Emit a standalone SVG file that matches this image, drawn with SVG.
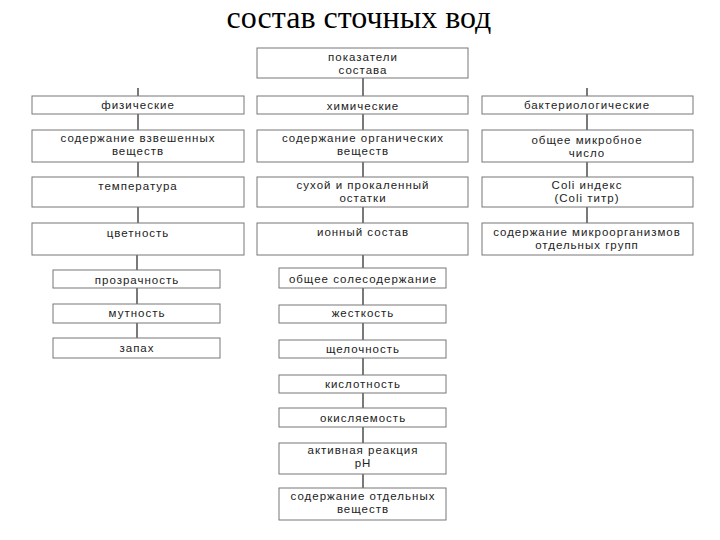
<svg xmlns="http://www.w3.org/2000/svg" width="720" height="540" viewBox="0 0 720 540">
<style>
.bx{fill:#fff;stroke:#777;stroke-width:1}
.t{font-family:"Liberation Sans",Arial,sans-serif;font-size:11.5px;letter-spacing:1px;fill:#222;text-anchor:middle}
.ttl{font-family:"Liberation Serif","Times New Roman",serif;font-size:32px;fill:#000;text-anchor:middle}
.c{stroke:#333;stroke-width:1.3;fill:none}
</style>
<rect width="720" height="540" fill="#fff"/>
<text class="ttl" x="359" y="28">состав сточных вод</text>
<g id="connectors">
<path class="c" d="M363 78V96M363 114V130M363 162V177M363 207V223M363 255V268M363 288V305M363 323V340M363 358V375M363 393V408M363 427V443M363 474V488"/>
<path class="c" d="M138 88V96M138 114V130M138 162V177M138 207V223M137 255V270M137 288V304M137 323V338"/>
<path class="c" d="M587 88V96M587 114V130M587 162V177M587 207V223"/>
</g>
<g id="n-top"><rect class="bx" x="257" y="48" width="211" height="30"/><text class="t" x="363" y="61">показатели</text><text class="t" x="363" y="74">состава</text></g>
<g id="n-phys"><rect class="bx" x="32" y="96" width="212" height="18"/><text class="t" x="138" y="109">физические</text></g>
<g id="n-susp"><rect class="bx" x="32" y="130" width="212" height="32"/><text class="t" x="138" y="142">содержание взвешенных</text><text class="t" x="138" y="155">веществ</text></g>
<g id="n-temp"><rect class="bx" x="32" y="177" width="212" height="30"/><text class="t" x="138" y="190">температура</text></g>
<g id="n-color"><rect class="bx" x="32" y="223" width="212" height="32"/><text class="t" x="138" y="237">цветность</text></g>
<g id="n-transp"><rect class="bx" x="53" y="270" width="167" height="18"/><text class="t" x="137" y="284">прозрачность</text></g>
<g id="n-turb"><rect class="bx" x="53" y="304" width="167" height="19"/><text class="t" x="137" y="317">мутность</text></g>
<g id="n-smell"><rect class="bx" x="53" y="338" width="167" height="20"/><text class="t" x="137" y="352">запах</text></g>
<g id="n-chem"><rect class="bx" x="257" y="96" width="211" height="18"/><text class="t" x="363" y="110">химические</text></g>
<g id="n-org"><rect class="bx" x="257" y="130" width="211" height="32"/><text class="t" x="363" y="142">содержание органических</text><text class="t" x="363" y="155">веществ</text></g>
<g id="n-dry"><rect class="bx" x="257" y="177" width="211" height="30"/><text class="t" x="363" y="189">сухой и прокаленный</text><text class="t" x="363" y="202">остатки</text></g>
<g id="n-ion"><rect class="bx" x="257" y="223" width="211" height="32"/><text class="t" x="363" y="236">ионный состав</text></g>
<g id="n-salt"><rect class="bx" x="279" y="268" width="167" height="20"/><text class="t" x="363" y="283">общее солесодержание</text></g>
<g id="n-hard"><rect class="bx" x="279" y="305" width="167" height="18"/><text class="t" x="363" y="317">жесткость</text></g>
<g id="n-alk"><rect class="bx" x="279" y="340" width="167" height="18"/><text class="t" x="363" y="353">щелочность</text></g>
<g id="n-acid"><rect class="bx" x="279" y="375" width="167" height="18"/><text class="t" x="363" y="388">кислотность</text></g>
<g id="n-ox"><rect class="bx" x="279" y="408" width="167" height="19"/><text class="t" x="363" y="422">окисляемость</text></g>
<g id="n-ph"><rect class="bx" x="279" y="443" width="167" height="31"/><text class="t" x="363" y="454">активная реакция</text><text class="t" x="363" y="467">pH</text></g>
<g id="n-indiv"><rect class="bx" x="279" y="488" width="167" height="32"/><text class="t" x="363" y="500">содержание отдельных</text><text class="t" x="363" y="513">веществ</text></g>
<g id="n-bact"><rect class="bx" x="482" y="96" width="211" height="18"/><text class="t" x="587" y="109">бактериологические</text></g>
<g id="n-micro"><rect class="bx" x="482" y="130" width="211" height="32"/><text class="t" x="587" y="144">общее микробное</text><text class="t" x="587" y="157">число</text></g>
<g id="n-coli"><rect class="bx" x="482" y="177" width="211" height="30"/><text class="t" x="587" y="189">Coli индекс</text><text class="t" x="587" y="202">(Coli титр)</text></g>
<g id="n-groups"><rect class="bx" x="482" y="223" width="211" height="32"/><text class="t" x="587" y="236">содержание микроорганизмов</text><text class="t" x="587" y="249">отдельных групп</text></g>
</svg>
